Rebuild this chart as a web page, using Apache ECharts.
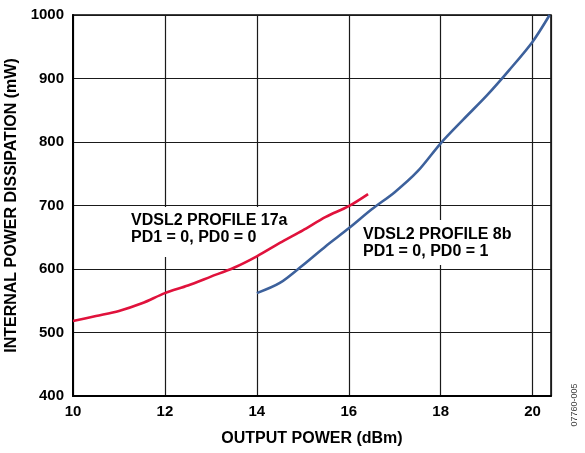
<!DOCTYPE html>
<html>
<head>
    <meta charset="utf-8">
    <title>Internal Power Dissipation</title>
    <script src="https://cdn.jsdelivr.net/npm/echarts@6/dist/echarts.min.js"></script>
    <style>
        html, body { margin: 0; padding: 0; background: #fff; }
        #chart { width: 585px; height: 453px; }
    </style>
</head>
<body>
    <div id="chart"></div>
    <script type="text/javascript">
        // values: [output power dBm, dissipation mW]
        var profile17a = [
            [10, 518], [10.5, 526], [11, 534], [11.5, 546], [12, 562], [12.5, 574],
            [13, 588], [13.5, 602], [14, 620], [14.5, 641], [15, 661], [15.5, 682],
            [16, 699], [16.42, 718]
        ];
        var profile8b = [
            [14, 562], [14.5, 578], [15, 606], [15.5, 636], [16, 664], [16.5, 694],
            [17, 721], [17.5, 754], [18, 798], [18.5, 836], [19, 873], [19.5, 914],
            [20, 958], [20.37, 1000]
        ];
        var xTicks = [10, 12, 14, 16, 18, 20];
        var yTicks = [400, 500, 600, 700, 800, 900, 1000];

        var font = "'Liberation Sans', Arial, sans-serif";
        var myChart = echarts.init(document.getElementById('chart'));

        var option = {
            backgroundColor: '#fff',
            animation: false,
            grid: {
                left: 73, right: 34, top: 15, bottom: 57,
                outerBoundsMode: 'none',
                containLabel: false,
                show: true, borderColor: '#000', borderWidth: 1.5
            },
            xAxis: {
                type: 'value',
                min: xTicks[0],
                max: 20.4,
                interval: 2,
                name: 'OUTPUT POWER (dBm)',
                nameLocation: 'middle',
                nameGap: 35,
                nameTextStyle: { fontFamily: font, fontWeight: 'bold', fontSize: 16, color: '#000' },
                axisLine: { lineStyle: { color: '#000', width: 2 } },
                axisTick: { show: false },
                axisLabel: {
                    margin: 8, fontFamily: font, fontWeight: 'bold', fontSize: 15, color: '#000',
                    formatter: function (v) { return xTicks.indexOf(v) >= 0 ? String(v) : ''; }
                },
                splitLine: { lineStyle: { color: '#1a1a1a', width: 1.2 } }
            },
            yAxis: {
                type: 'value',
                min: yTicks[0],
                max: yTicks[yTicks.length - 1],
                interval: 100,
                name: 'INTERNAL POWER DISSIPATION (mW)',
                nameLocation: 'middle',
                nameGap: 47,
                nameTextStyle: { fontFamily: font, fontWeight: 'bold', fontSize: 16, color: '#000' },
                axisLine: { lineStyle: { color: '#000', width: 2 } },
                axisTick: { show: false },
                axisLabel: {
                    margin: 9, fontFamily: font, fontWeight: 'bold', fontSize: 15, color: '#000',
                    formatter: function (v) { return String(v); }
                },
                splitLine: { lineStyle: { color: '#1a1a1a', width: 1.2 } }
            },
            graphic: [
                {
                    type: 'text', left: 127, top: 207, z: 1,
                    style: {
                        text: 'VDSL2 PROFILE 17a\nPD1 = 0, PD0 = 0',
                        font: 'bold 16px ' + font, fill: '#000', lineHeight: 17,
                        backgroundColor: '#fff', padding: [5, 4, 11, 4]
                    }
                },
                {
                    type: 'text', left: 358, top: 220, z: 1,
                    style: {
                        text: 'VDSL2 PROFILE 8b\nPD1 = 0, PD0 = 1',
                        font: 'bold 16px ' + font, fill: '#000', lineHeight: 17,
                        backgroundColor: '#fff', padding: [6, 5, 5, 5]
                    }
                },
                {
                    type: 'text', x: 575, y: 405, rotation: Math.PI / 2, z: 1,
                    style: {
                        text: '07760-005', font: '9px ' + font, fill: '#444',
                        align: 'center', verticalAlign: 'middle'
                    }
                }
            ],
            series: [
                {
                    name: 'VDSL2 PROFILE 17a',
                    type: 'line',
                    data: profile17a,
                    smooth: 0.3,
                    showSymbol: false,
                    z: 3,
                    lineStyle: { color: '#e0123c', width: 2.6 }
                },
                {
                    name: 'VDSL2 PROFILE 8b',
                    type: 'line',
                    data: profile8b,
                    smooth: 0.3,
                    showSymbol: false,
                    z: 3,
                    lineStyle: { color: '#3d619c', width: 2.6 }
                }
            ]
        };

        myChart.setOption(option);
    </script>
</body>
</html>
